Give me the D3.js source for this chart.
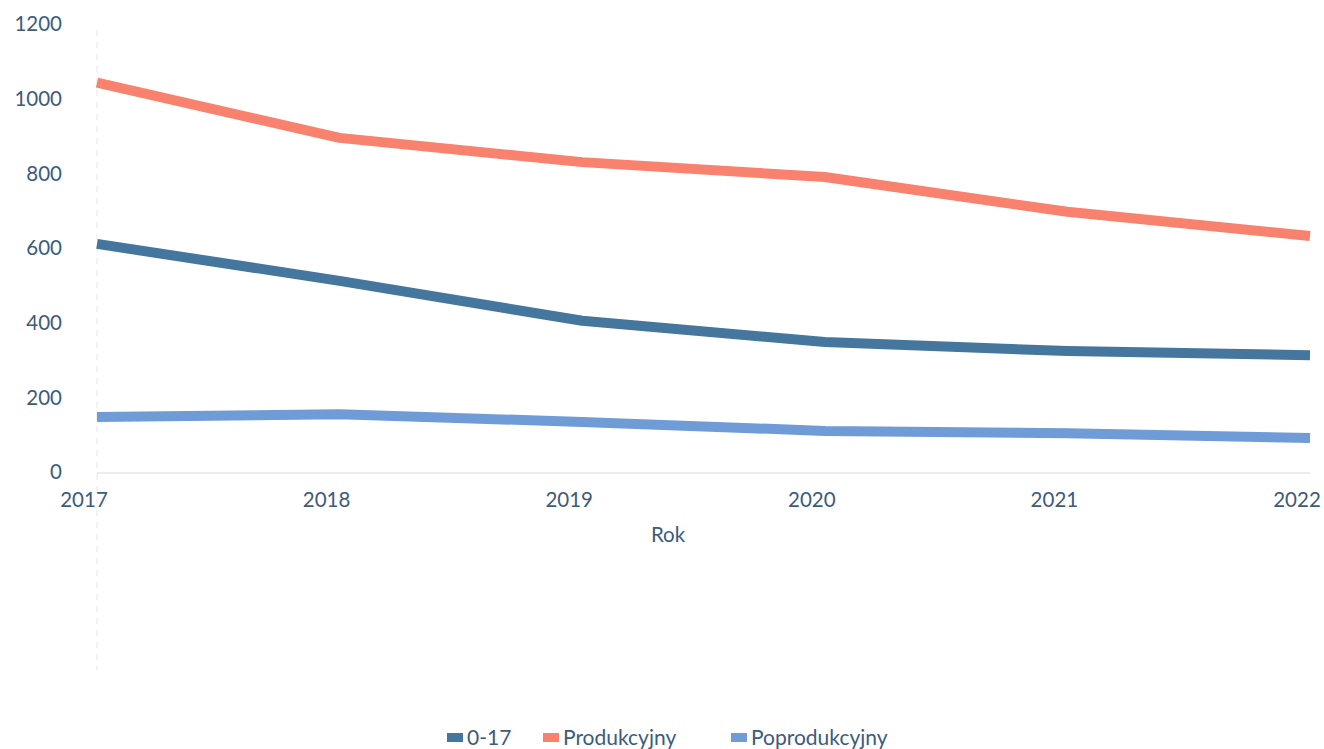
<!DOCTYPE html>
<html><head><meta charset="utf-8">
<script src="https://cdn.jsdelivr.net/npm/d3@7"></script>
<style>body{margin:0;background:#fff;} svg{display:block;font-family:Lato,"Open Sans",sans-serif;}</style>
</head><body>
<svg id="c" width="1324" height="749"></svg>
<script>
const years = [2017, 2018, 2019, 2020, 2021, 2022];
const seriesNames = ["0-17", "Produkcyjny", "Poprodukcyjny"];
const v017 = [611, 512, 405, 348, 324, 313];
const vProd = [1043, 895, 830, 790, 697, 632];
const vPoprod = [147, 155, 134, 110, 104, 91];
const yTicks = [0, 200, 400, 600, 800, 1000, 1200];
const colors = ["#44769e", "#f8826d", "#6f9bd7"];
const textColor = "#3d5b7c";

const svg = d3.select("#c");
const x = d3.scaleLinear().domain([2017, 2022]).range([97, 1310]);
const y = d3.scaleLinear().domain([0, 1200]).range([472, 24]);

// faint dashed vertical (gridline trace)
svg.append("line").attr("x1", 97).attr("x2", 97).attr("y1", 30).attr("y2", 670)
  .attr("stroke", "#e6e6e6").attr("stroke-dasharray", "6,6").attr("stroke-width", 1);

// x axis line
svg.append("line").attr("x1", x(2017)).attr("x2", x(2022)).attr("y1", 473).attr("y2", 473)
  .attr("stroke", "#d9d9d9").attr("stroke-width", 1.2);

// y tick labels
svg.append("g").selectAll("text").data(yTicks).join("text")
  .attr("x", 62).attr("y", d => y(d)).attr("dy", "0.35em")
  .attr("text-anchor", "end").attr("fill", textColor).attr("font-size", 20.5)
  .text(d => d);

// x tick labels
svg.append("g").selectAll("text").data(years).join("text")
  .attr("x", d => x(d) - 13).attr("y", 500).attr("dy", "0.35em")
  .attr("text-anchor", "middle").attr("fill", textColor).attr("font-size", 20.5)
  .text(d => d);

svg.append("text").attr("x", 668).attr("y", 535).attr("dy", "0.35em")
  .attr("text-anchor", "middle").attr("fill", textColor).attr("font-size", 20.5).text("Rok");

const data = [v017, vProd, vPoprod];
const line = d3.line().x((d, i) => x(years[i])).y(d => y(d)).curve(d3.curveLinear);
svg.append("g").selectAll("path").data(data).join("path")
  .attr("d", line).attr("fill", "none")
  .attr("stroke", (d, i) => colors[i]).attr("stroke-width", 10)
  .attr("stroke-linejoin", "round").attr("stroke-linecap", "butt");

// legend
const legX = [447, 543, 731];
const lg = svg.append("g").selectAll("g").data(seriesNames).join("g")
  .attr("transform", (d, i) => `translate(${legX[i]},738)`);
lg.append("rect").attr("x", 0).attr("y", -5).attr("width", 16).attr("height", 9)
  .attr("fill", (d, i) => colors[i]);
lg.append("text").attr("x", 20).attr("y", 0).attr("dy", "0.35em")
  .attr("fill", textColor).attr("font-size", 21).text(d => d);
</script>
</body></html>
